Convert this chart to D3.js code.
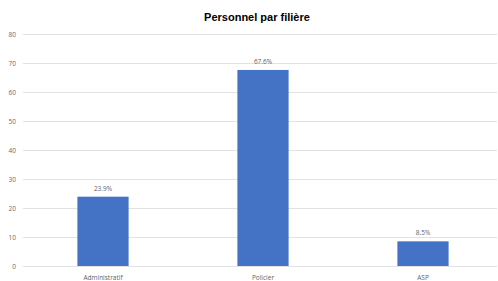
<!DOCTYPE html>
<html>
<head>
  <meta charset="utf-8">
  <title>Personnel par filière</title>
  <script src="https://d3js.org/d3.v7.min.js"></script>
  <style>
    body { margin: 0; background: #fff; }
    svg text { font-family: "Open Sans", "Liberation Sans", Arial, sans-serif; }
    .grade path { display: none; }
    .grade text { fill: #6b6b6b; font-size: 6.5px; }
    .rotulo { fill: #5f5f5f; font-size: 6.5px; text-anchor: middle; }
    .barra { fill: #4472c4; }
  </style>
</head>
<body>
<div id="grafico"></div>
<script>
  "use strict"

  // dados
  var filieres = ["Administratif", "Policier", "ASP"];
  var valeurs = [23.9, 67.6, 8.5];
  var etiquettes = ["23.9%", "67.6%", "8.5%"];
  var ticks = [0, 10, 20, 30, 40, 50, 60, 70, 80];

  var larguraSVG = 498, alturaSVG = 281;
  var margin = {top: 34, right: 1, bottom: 15, left: 23};

  var svg = d3.select('#grafico')
    .append('svg')
    .attr('width', larguraSVG)
    .attr('height', alturaSVG);

  var x = d3.scaleBand()
    .domain(filieres)
    .range([margin.left, margin.left + 480])
    .paddingInner(0.68)
    .paddingOuter(0.34);

  var y = d3.scaleLinear()
    .domain([0, 80])
    .range([alturaSVG - margin.bottom, margin.top]);

  // linhas de grade
  svg.append('g')
    .attr('class', 'grade')
    .attr('transform', 'translate(' + margin.left + ',0)')
    .call(d3.axisLeft(y).tickValues(ticks).tickSize(-(larguraSVG - margin.left - margin.right)).tickPadding(7))
    .selectAll('line').attr('stroke', '#e2e2e2');

  svg.selectAll('.barra')
    .data(valeurs)
    .enter().append('rect')
    .attr('class', 'barra')
    .attr('x', (d, i) => x(filieres[i]))
    .attr('width', x.bandwidth())
    .attr('y', d => y(d))
    .attr('height', d => y(0) - y(d));

  svg.selectAll('.valor')
    .data(valeurs)
    .enter().append('text')
    .attr('class', 'rotulo')
    .attr('x', (d, i) => x(filieres[i]) + x.bandwidth() / 2)
    .attr('y', d => y(d) - 6)
    .text((d, i) => etiquettes[i]);

  svg.selectAll('.categoria')
    .data(filieres)
    .enter().append('text')
    .attr('class', 'rotulo')
    .attr('x', d => x(d) + x.bandwidth() / 2)
    .attr('y', alturaSVG - 1)
    .text(d => d);

  svg.append('text')
    .attr('x', 257)
    .attr('y', 21)
    .attr('text-anchor', 'middle')
    .style('font-family', '"Liberation Sans", Arial, sans-serif')
    .style('font-size', '11px')
    .style('font-weight', 'bold')
    .style('fill', '#000')
    .text('Personnel par filière');
</script>
</body>
</html>
